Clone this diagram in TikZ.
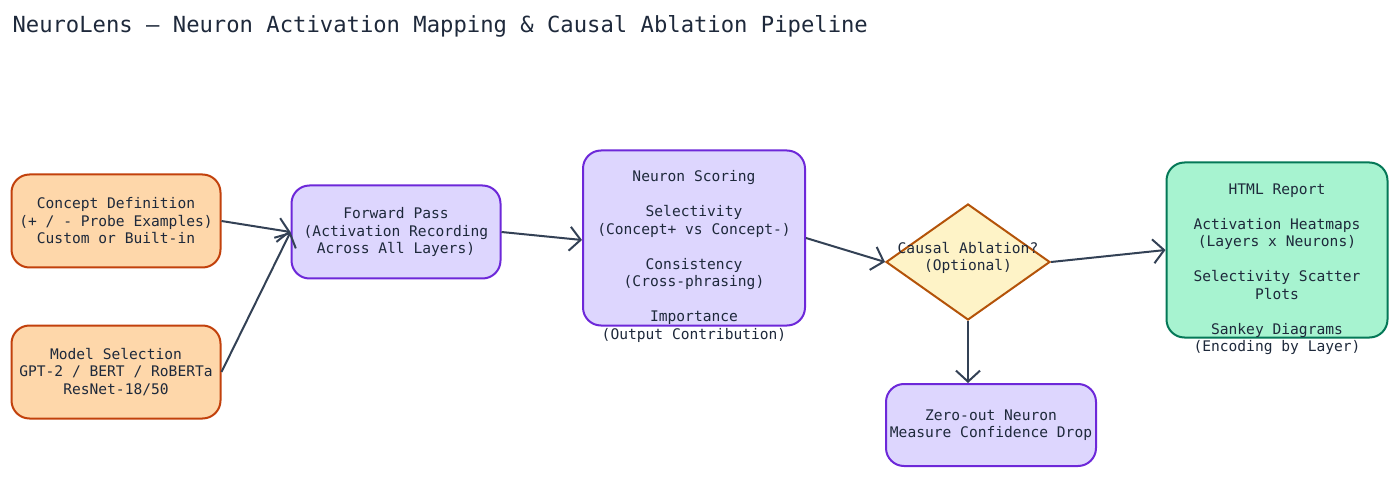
\documentclass[tikz,border=0pt]{standalone}
\usepackage{fontspec}
\setmonofont{DejaVu Sans Mono}
\usetikzlibrary{shapes.geometric,arrows.meta}
\definecolor{txt}{HTML}{1E293B}
\definecolor{arr}{HTML}{334155}
\definecolor{ofill}{HTML}{FED7AA}\definecolor{odraw}{HTML}{C2410C}
\definecolor{pfill}{HTML}{DDD6FE}\definecolor{pdraw}{HTML}{6D28D9}
\definecolor{yfill}{HTML}{FEF3C7}\definecolor{ydraw}{HTML}{B45309}
\definecolor{gfill}{HTML}{A7F3D0}\definecolor{gdraw}{HTML}{047857}
\begin{document}
\begin{tikzpicture}[x=1pt,y=-1pt,
  every node/.style={font=\ttfamily\fontsize{14.6}{17.5}\selectfont,text=txt,align=center},
  box/.style={rectangle,rounded corners=18pt,line width=2pt,inner sep=0pt},
  ob/.style={box,fill=ofill,draw=odraw},
  pb/.style={box,fill=pfill,draw=pdraw},
  gb/.style={box,fill=gfill,draw=gdraw},
  con/.style={draw=arr,line width=2pt,-{Straight Barb[length=11pt,width=24pt,line width=2pt]}}]
\useasboundingbox[fill=white] (0,0) rectangle (1400,478);
\node[anchor=west,font=\ttfamily\fontsize{22.2}{26}\selectfont] (title) at (9,26) {NeuroLens — Neuron Activation Mapping \& Causal Ablation Pipeline};
\node[ob,minimum width=209pt,minimum height=93pt] (concept) at (116,221) {Concept Definition\\(+ / - Probe Examples)\\Custom or Built-in};
\node[ob,minimum width=209pt,minimum height=93pt] (model) at (116,372) {Model Selection\\GPT-2 / BERT / RoBERTa\\ResNet-18/50};
\node[pb,minimum width=209pt,minimum height=93pt] (fwd) at (396,232) {Forward Pass\\(Activation Recording\\Across All Layers)};
\node[pb,minimum width=222pt,minimum height=175pt] (score) at (694,238) {};
\node (scoretxt) at (694,256.5) {Neuron Scoring\\[17.5pt]Selectivity\\(Concept+ vs Concept-)\\[17.5pt]Consistency\\(Cross-phrasing)\\[17.5pt]Importance\\(Output Contribution)};
\node[diamond,fill=yfill,draw=ydraw,line width=2pt,inner sep=0pt,shape aspect=1.41,minimum width=164pt,minimum height=116pt] (abl) at (968,262) {};
\node (abltxt) at (968,258) {Causal Ablation?\\(Optional)};
\node[gb,minimum width=221pt,minimum height=175pt] (html) at (1277,250) {};
\node (htmltxt) at (1277,269) {HTML Report\\[17.5pt]Activation Heatmaps\\(Layers x Neurons)\\[17.5pt]Selectivity Scatter\\Plots\\[17.5pt]Sankey Diagrams\\(Encoding by Layer)};
\node[pb,minimum width=210pt,minimum height=82pt] (zero) at (991,425) {Zero-out Neuron\\Measure Confidence Drop};
\draw[con] (concept.east) -- (fwd.west);
\draw[con] (model.east) -- (fwd.west);
\draw[con] (fwd.east) -- (score.west|-0,240);
\draw[con] (score.east) -- (abl.west);
\draw[con] (abl.east) -- (html.west);
\draw[con] (abl.south) -- (abl.south|-zero.north);
\end{tikzpicture}
\end{document}
